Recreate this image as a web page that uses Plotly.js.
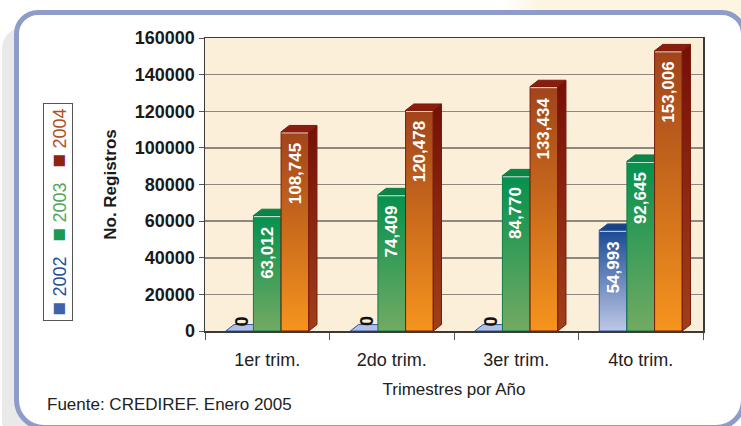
<!DOCTYPE html>
<html>
<head>
<meta charset="utf-8">
<script src="https://cdn.plot.ly/plotly-3.0.1.min.js"></script>
<style>
  html, body { margin:0; padding:0; background:#ffffff; overflow:hidden; }
  #wrap { position:relative; width:741px; height:426px; overflow:hidden; background:#ffffff; }
  #beige { position:absolute; left:500px; top:0; width:260px; height:40px;
           background:linear-gradient(90deg, rgba(253,244,226,0) 0px, #fdf4e2 40px); }
  #shadow { position:absolute; left:2px; top:27px; width:60px; height:420px;
            background:#e9e9ea; border-radius:22px 0 0 26px; }
  #frame { position:absolute; left:14px; top:10px; width:722px; height:410px;
           border:5px solid #8e9cc9; border-radius:24px 24px 30px 30px; background:#ffffff; }
  #chart { position:absolute; left:0; top:0; width:741px; height:426px; }
</style>
</head>
<body>
<div id="wrap">
  <div id="beige"></div>
  <div id="shadow"></div>
  <div id="frame"></div>
  <div id="chart"></div>
</div>
<script>
// ---- data ----
const categories = ['1er trim.', '2do trim.', '3er trim.', '4to trim.'];
const years = ['2002', '2003', '2004'];
const v2002 = [0, 0, 0, 54993];
const v2003 = [63012, 74409, 84770, 92645];
const v2004 = [108745, 120478, 133434, 153006];
const yTickVals = [0, 20000, 40000, 60000, 80000, 100000, 120000, 140000, 160000];

// ---- styles ----
const seriesValues = [v2002, v2003, v2004];
const styles = [
  { front: ['#bfc8e6', '#1b4a94'], side: ['#8d9cc8', '#163c7a'], topDark: '#1a4283', topLight: '#b3bfe2', line: '#2a56a0', legend: '#1f4f9a', sq: '#3d64a8' },
  { front: ['#72aa63', '#05914e'], side: ['#4f8c52', '#0a7440'], topDark: '#0b8547', topLight: '#72aa63', line: '#0e7a45', legend: '#52a65a', sq: '#1c9a55' },
  { front: ['#f6941e', '#a1441b'], side: ['#a0401a', '#760f08'], topDark: '#8a1d0e', topLight: '#f6941e', line: '#7a1a0a', legend: '#b24e1c', sq: '#8c2412' }
];
const barW = 2 / 9;     // width of each bar in category units
const dX = 0.066;       // 3D depth (x, category units)
const dY = 3500;        // 3D depth (y, value units)

const traces = [];
const annotations = [];

categories.forEach((cat, i) => {
  seriesValues.forEach((vals, k) => {
    const v = vals[i];
    const s = styles[k];
    const x0 = i - 1 / 3 + k * barW;
    const x1 = x0 + barW;
    if (v > 0) {
      // front face
      traces.push({
        type: 'scatter', mode: 'lines', hoverinfo: 'skip', showlegend: false,
        x: [x0, x1, x1, x0, x0], y: [0, 0, v, v, 0],
        fill: 'toself',
        fillgradient: { type: 'vertical', colorscale: [[0, s.front[0]], [1, s.front[1]]] },
        line: { color: s.line, width: 1 }
      });
      // highlight at top edge of front face
      traces.push({
        type: 'scatter', mode: 'lines', hoverinfo: 'skip', showlegend: false,
        x: [x0 + 0.004, x1 - 0.004], y: [v - 500, v - 500],
        line: { color: 'rgba(255,255,255,0.85)', width: 1.2 }
      });
      // side face
      traces.push({
        type: 'scatter', mode: 'lines', hoverinfo: 'skip', showlegend: false,
        x: [x1, x1 + dX, x1 + dX, x1, x1], y: [0, dY, v + dY, v, 0],
        fill: 'toself',
        fillgradient: { type: 'vertical', colorscale: [[0, s.side[0]], [1, s.side[1]]] },
        line: { color: s.line, width: 1 }
      });
    }
    // top face
    traces.push({
      type: 'scatter', mode: 'lines', hoverinfo: 'skip', showlegend: false,
      x: [x0, x1, x1 + dX, x0 + dX, x0], y: [v, v, v + dY, v + dY, v],
      fill: 'toself', fillcolor: v > 0 ? s.topDark : s.topLight,
      line: { color: s.line, width: 1 }
    });
    // value label
    if (v > 0) {
      annotations.push({
        x: (x0 + x1) / 2, y: v, xref: 'x', yref: 'y',
        xanchor: 'center', yanchor: 'top', yshift: -9,
        text: v.toLocaleString('en-US'), textangle: -90, showarrow: false,
        font: { family: 'Liberation Sans, Arial, sans-serif', size: 17, color: '#ffffff', weight: 'bold' }
      });
    } else {
      annotations.push({
        x: (x0 + x1) / 2 + dX * 0.35, y: 0, xref: 'x', yref: 'y',
        xanchor: 'center', yanchor: 'bottom', yshift: 3,
        text: '0', textangle: -90, showarrow: false,
        font: { family: 'Liberation Sans, Arial, sans-serif', size: 18, color: '#111111', weight: 'bold' }
      });
    }
  });
});

// ---- layout helpers (pixel -> paper) ----
const L = 205, R = 703, T = 38, B = 331;
const px = x => (x - L) / (R - L);
const py = y => (B - y) / (B - T);

// legend (rotated, as in the reference)
const legendText = years.map((yr, k) =>
  '<span style="color:' + styles[k].sq + ';font-size:23px">\u25A0</span>' +
  '<span style="color:' + styles[k].legend + '">\u00A0' + yr + '</span>'
).join('\u00A0\u00A0\u00A0');
annotations.push({
  xref: 'paper', yref: 'paper', x: px(57.5), y: py(212.5),
  xanchor: 'center', yanchor: 'middle',
  text: legendText, textangle: -90, showarrow: false,
  width: 212, height: 24, borderpad: 2,
  bordercolor: '#555555', borderwidth: 1, bgcolor: 'rgba(255,255,255,0)',
  font: { family: 'Liberation Sans, Arial, sans-serif', size: 18, color: '#333' }
});
// source note
annotations.push({
  xref: 'paper', yref: 'paper', x: px(45), y: py(404),
  xanchor: 'left', yanchor: 'middle',
  text: 'Fuente: CREDIREF. Enero 2005', showarrow: false,
  font: { family: 'Liberation Sans, Arial, sans-serif', size: 17, color: '#222' }
});

const layout = {
  width: 741, height: 426,
  margin: { l: L, r: 741 - R, t: T, b: 426 - B, pad: 0 },
  paper_bgcolor: 'rgba(0,0,0,0)',
  plot_bgcolor: '#fcefd9',
  showlegend: false,
  font: { family: 'Liberation Sans, Arial, sans-serif', color: '#222' },
  xaxis: {
    range: [-0.5, 3.5], fixedrange: true,
    tickmode: 'array', tickvals: categories.map((c, i) => i), ticktext: categories,
    ticks: '', showgrid: false, zeroline: false,
    showline: true, linecolor: '#3a3a3a', linewidth: 1.5, mirror: true,
    ticklabelstandoff: 12,
    tickfont: { size: 18, color: '#222' },
    minor: { tickmode: 'array', tickvals: [-0.5, 0.5, 1.5, 2.5, 3.5], ticks: 'outside', ticklen: 7, tickwidth: 1, tickcolor: '#555', showgrid: false },
    title: { text: 'Trimestres por Año', font: { size: 17, color: '#222' }, standoff: 14 }
  },
  yaxis: {
    range: [0, 160000], fixedrange: true,
    tickmode: 'array', tickvals: yTickVals, ticktext: yTickVals.map(v => String(v)),
    ticks: 'outside', ticklen: 5, tickwidth: 1, tickcolor: '#555',
    showgrid: true, gridcolor: '#8d877f', gridwidth: 1.5,
    zeroline: false, showline: true, linecolor: '#3a3a3a', linewidth: 1.5, mirror: true,
    tickfont: { size: 18, color: '#1a1a1a', weight: 'bold' },
    title: { text: 'No. Registros', font: { size: 17, color: '#1a1a1a', weight: 'bold' }, standoff: 14 }
  },
  annotations: annotations
};

Plotly.newPlot('chart', traces, layout, { staticPlot: true, displayModeBar: false });
</script>
</body>
</html>
